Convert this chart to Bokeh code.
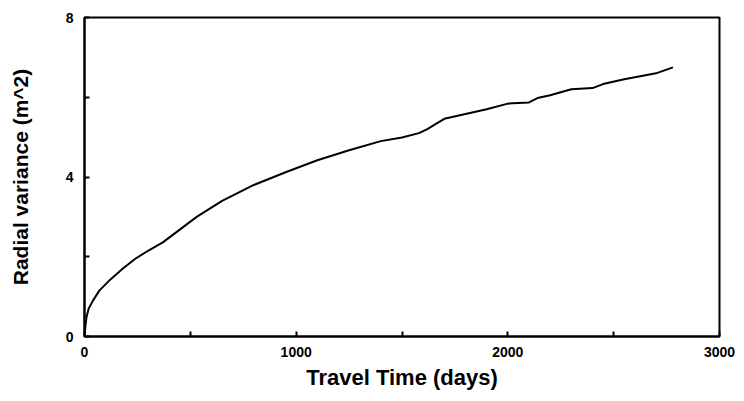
from bokeh.plotting import figure
from bokeh.models import FixedTicker, Range1d
from bokeh.embed import file_html
from bokeh.resources import INLINE

# Data
travel_time = [0, 5, 10, 20, 40, 70, 120, 180, 240, 300, 370, 450, 530, 650, 800,
               950, 1100, 1250, 1400, 1500, 1580, 1620, 1660, 1700, 1800, 1900, 2000,
               2100, 2140, 2200, 2300, 2400, 2450, 2550, 2650, 2700, 2780]
radial_variance = [0.0, 0.3, 0.5, 0.7, 0.9, 1.15, 1.42, 1.7, 1.95, 2.15, 2.36, 2.68,
                   3.0, 3.4, 3.8, 4.12, 4.42, 4.67, 4.9, 4.99, 5.1, 5.2, 5.33, 5.46,
                   5.58, 5.7, 5.84, 5.87, 5.98, 6.05, 6.2, 6.23, 6.33, 6.45, 6.55, 6.6, 6.75]
x_ticks = [0, 500, 1000, 1500, 2000, 2500, 3000]
x_labels = {500: "", 1500: "", 2500: ""}
y_ticks = [0, 2, 4, 6, 8]
y_labels = {2: "", 6: ""}

FONT = "Liberation Sans"

p = figure(width=736, height=393, output_backend="svg", toolbar_location=None,
           x_range=Range1d(0, 3000), y_range=Range1d(0, 8),
           min_border_left=84, min_border_right=17, min_border_top=17,
           min_border_bottom=57)

p.line(travel_time, radial_variance, line_color="black", line_width=2)

p.xgrid.visible = False
p.ygrid.visible = False
p.outline_line_color = "black"
p.outline_line_width = 2
p.outline_line_alpha = 1

for ax in (p.xaxis[0], p.yaxis[0]):
    ax.axis_line_color = "black"
    ax.axis_line_width = 2
    ax.major_tick_in = 5
    ax.major_tick_out = 0
    ax.major_tick_line_width = 2
    ax.minor_tick_line_color = None
    ax.major_label_text_font = FONT
    ax.major_label_text_font_style = "bold"
    ax.major_label_text_font_size = "14px"
    ax.major_label_text_color = "black"
    ax.axis_label_text_font = FONT
    ax.axis_label_text_font_style = "bold"
    ax.axis_label_text_color = "black"

p.xaxis.axis_label_text_font_size = "22px"
p.yaxis.axis_label_text_font_size = "21px"
p.xaxis.ticker = FixedTicker(ticks=x_ticks)
p.xaxis.major_label_overrides = x_labels
p.yaxis.ticker = FixedTicker(ticks=y_ticks)
p.yaxis.major_label_overrides = y_labels
p.xaxis.axis_label = "Travel Time (days)"
p.yaxis.axis_label = "Radial variance (m^2)"
p.xaxis.major_label_standoff = 10
p.yaxis.major_label_standoff = 11
p.xaxis.axis_label_standoff = 5
p.yaxis.axis_label_standoff = 31

open("out.html", "w").write(file_html(p, INLINE))
